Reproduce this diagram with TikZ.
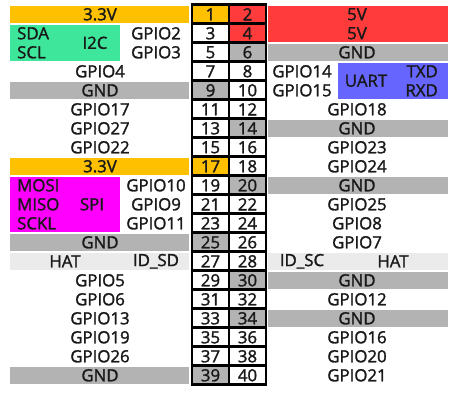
\documentclass[tikz,border=0pt]{standalone}
\usepackage{fontspec}
\setmainfont{Open Sans}
\newfontfamily\gpfont{Open Sans}[FakeBold=1.6]
\usepackage{xcolor}
\usetikzlibrary{calc}

\definecolor{pwrY}{HTML}{FFC000}
\definecolor{pwrR}{HTML}{FF3B3B}
\definecolor{gndG}{HTML}{B3B3B3}
\definecolor{hatG}{HTML}{EBEBEB}
\definecolor{iicG}{HTML}{3DE69B}
\definecolor{uartB}{HTML}{6666FF}
\definecolor{spiM}{HTML}{FF00FF}

\tikzset{
  lbl/.style={font=\gpfont\fontsize{16.8}{17}\selectfont, inner sep=0pt, text=black!90},
  pinbox/.style={lbl, draw=black, line width=2.8pt, minimum width=37pt, minimum height=19pt, fill=white},
  pc1/.style={fill=pwrY}, pc2/.style={fill=pwrR}, pc4/.style={fill=pwrR},
  pc6/.style={fill=gndG}, pc9/.style={fill=gndG}, pc14/.style={fill=gndG},
  pc17/.style={fill=pwrY}, pc20/.style={fill=gndG}, pc25/.style={fill=gndG},
  pc30/.style={fill=gndG}, pc34/.style={fill=gndG}, pc39/.style={fill=gndG}
}

\begin{document}
\begin{tikzpicture}[x=1pt,y=-1pt]

	\useasboundingbox (0,0) rectangle (455,396);

	% coloured bands, left side
	\foreach \r/\c in {1/pwrY,5/gndG,9/pwrY,13/gndG,14/hatG,20/gndG}
		\fill[\c] (10,{\r*19-13.2}) rectangle (189,{\r*19+3.8});
	\fill[iicG] (10,24.8) rectangle (120,60.8);
	\fill[spiM] (10,176.8) rectangle (120,231.8);

	% coloured bands, right side
	\foreach \r/\c in {3/gndG,7/gndG,10/gndG,14/hatG,15/gndG,17/gndG}
		\fill[\c] (268,{\r*19-13.2}) rectangle (448,{\r*19+3.8});
	\fill[pwrR] (268,5.8) rectangle (448,41.8);
	\fill[uartB] (338,62.8) rectangle (448,98.8);

	% header pins
	\foreach \r in {1,...,20} {
		\pgfmathtruncatemacro{\a}{2*\r-1}
		\pgfmathtruncatemacro{\b}{2*\r}
		\node[pinbox, pc\a/.try] (p\a) at (210.5,{\r*19-4.7}) {\a};
		\node[pinbox, pc\b/.try] (p\b) at (247.5,{\r*19-4.7}) {\b};
	}

	% left labels
	\foreach \r/\t in {1/3.3V,4/GPIO4,5/GND,6/GPIO17,7/GPIO27,8/GPIO22,9/3.3V,
		13/GND,15/GPIO5,16/GPIO6,17/GPIO13,18/GPIO19,19/GPIO26,20/GND}
		\node[lbl] (lc\r) at (100,{\r*19-4.7}) {\t};
	\foreach \r/\t in {2/GPIO2,3/GPIO3,10/GPIO10,11/GPIO9,12/GPIO11,14/ID\_SD}
		\node[lbl] (lg\r) at (156,{\r*19-4.7}) {\t};
	\foreach \r/\t in {2/SDA,3/SCL,10/MOSI,11/MISO,12/SCKL}
		\node[lbl, anchor=west] (lf\r) at (17,{\r*19-4.7}) {\t};
	\node[lbl] (iic) at (95,{2.5*19-4.7}) {I2C};
	\node[lbl] (spi) at (92,{11*19-4.7}) {SPI};
	\node[lbl] (hatl) at (65,{14*19-4.7}) {HAT};

	% right labels
	\foreach \r/\t in {1/5V,2/5V,3/GND,6/GPIO18,7/GND,8/GPIO23,9/GPIO24,10/GND,11/GPIO25,
		12/GPIO8,13/GPIO7,15/GND,16/GPIO12,17/GND,18/GPIO16,19/GPIO20,20/GPIO21}
		\node[lbl] (rc\r) at (357,{\r*19-4.7}) {\t};
	\foreach \r/\t in {4/GPIO14,5/GPIO15,14/ID\_SC}
		\node[lbl] (rg\r) at (302,{\r*19-4.7}) {\t};
	\foreach \r/\t in {4/TXD,5/RXD}
		\node[lbl, anchor=east] (rf\r) at (438,{\r*19-4.7}) {\t};
	\node[lbl] (uart) at (366,{4.5*19-4.7}) {UART};
	\node[lbl] (hatr) at (393,{14*19-4.7}) {HAT};

\end{tikzpicture}
\end{document}
